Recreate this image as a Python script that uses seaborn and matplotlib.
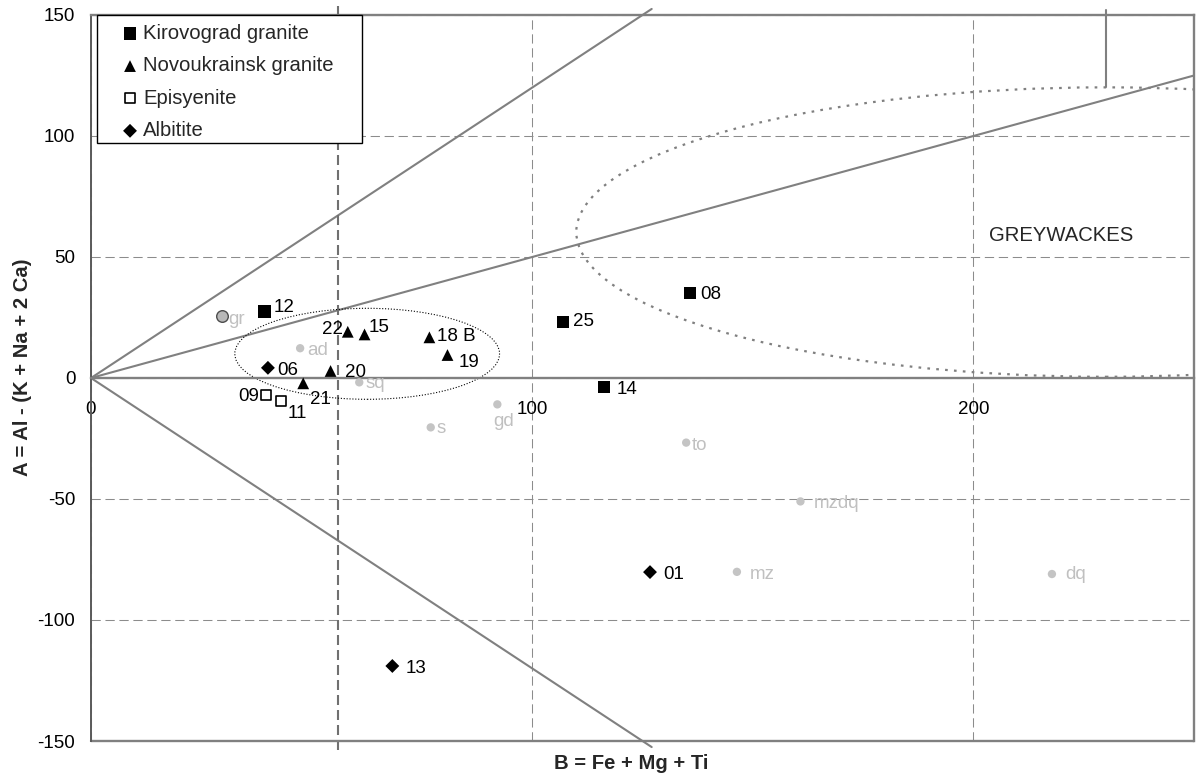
import matplotlib
matplotlib.use("Agg")
import numpy as np
import pandas as pd
import matplotlib.pyplot as plt
import seaborn as sns
from matplotlib.patches import Ellipse, Rectangle

# ---- data ----
kiro_ids = ['12', '25', '08', '14']
kiro_b = [39.3, 107.0, 135.8, 116.3]
kiro_a = [27.4, 23.1, 35.1, -3.8]

novo_ids = ['22', '15', '18 B', '19', '20', '21']
novo_b = [58.2, 62.0, 76.7, 80.8, 54.3, 48.1]
novo_a = [19.1, 18.0, 16.8, 9.5, 2.9, -2.2]

epi_ids = ['09', '11']
epi_b = [39.6, 43.1]
epi_a = [-7.0, -9.5]

albi_ids = ['06', '01', '13']
albi_b = [40.1, 126.7, 68.3]
albi_a = [4.2, -80.2, -119.0]

ref_ids = ['ad', 'sq', 's', 'gd', 'to', 'mzdq', 'mz', 'dq']
ref_b = [47.4, 60.8, 77.0, 92.1, 134.9, 160.8, 146.4, 217.8]
ref_a = [12.3, -1.8, -20.4, -10.9, -26.7, -51.0, -80.1, -81.0]

gr_b, gr_a = [29.8], [25.7]

boundary_slopes = [1.2, 0.5, -1.2]
sector_b = 56.0          # heavy dashed vertical
grey_centre, grey_w, grey_h = (230.0, 60.3), 240.0, 119.6
ellipse_centre, ellipse_w, ellipse_h = (62.6, 10.0), 60.0, 37.6

xticks = [0, 100, 200]
yticks = [-150, -100, -50, 0, 50, 100, 150]

# label offsets in pixels (dx, dy up), horizontal alignment
lab_off = {
    '12': (9, 0, 'left'), '25': (9.5, -4, 'left'), '08': (10, -6, 'left'),
    '14': (13, -6.7, 'left'), '22': (-5, -2.6, 'right'), '15': (4, 2.6, 'left'),
    '18 B': (8, -3.4, 'left'), '19': (11, -11.7, 'left'), '20': (14, -6.3, 'left'),
    '21': (6.7, -20.7, 'left'), '09': (-6.4, -5.7, 'right'), '11': (6.3, -17.3, 'left'),
    '06': (9, -6.7, 'left'), '01': (13.6, -7, 'left'), '13': (13.4, -6.7, 'left'),
    'gr': (6, -8.6, 'left'), 'ad': (6.7, -6.7, 'left'), 'sq': (6, -6, 'left'),
    's': (6, -6, 'left'), 'gd': (6.5, -21.7, 'center'), 'to': (5.7, -7.3, 'left'),
    'mzdq': (13, -7, 'left'), 'mz': (13.3, -7.6, 'left'), 'dq': (13.7, -4.5, 'left'),
}

sns.set_style('white')
plt.rcParams['font.family'] = ['Liberation Sans', 'DejaVu Sans']
plt.rcParams['axes.unicode_minus'] = False
FS = 13.5       # tick and point labels
FS_BIG = 14.6   # legend, axis titles, field name
GRID = '#8c8c8c'
LINE = '#808080'
LABGREY = '#c0c0c0'

fig = plt.figure(figsize=(11.96, 7.80), dpi=100)
ax = fig.add_axes([91 / 1196, 1 - 741 / 780, 1103 / 1196, 726 / 780])

ax.set_xlim(0, 250)
ax.set_ylim(-150, 150)
ax.set_xticks(xticks)
ax.set_yticks(yticks)
ax.grid(True, color=GRID, lw=0.75, ls=(0, (8.9, 4.5)))
ax.set_axisbelow(True)

for side in ['top', 'right']:
    ax.spines[side].set_color(LINE)
    ax.spines[side].set_linewidth(1.7)
ax.spines['left'].set_color('#5a5a5a')
ax.spines['left'].set_linewidth(1.4)
ax.spines['bottom'].set_position(('data', 0))
ax.spines['bottom'].set_color(LINE)
ax.spines['bottom'].set_linewidth(1.7)
ax.axhline(-150, color=LINE, lw=1.7, clip_on=False, zorder=2.5)

ax.tick_params(axis='both', direction='out', length=5.3, width=1, color='#333333',
               labelsize=FS, labelcolor='black')
ax.tick_params(axis='x', pad=11)
ax.tick_params(axis='y', pad=6)

# diagram boundaries
for k in boundary_slopes:
    xe = min(250.0, 152.5 / abs(k))
    ax.plot([0, xe], [0, k * xe], color=LINE, lw=1.5, clip_on=False, zorder=2)
ax.axvline(sector_b, ymin=-0.012, ymax=1.012, color='#707070', lw=1.5,
           ls=(0, (4.8, 2.4)), clip_on=False, zorder=2)

ax.add_patch(Ellipse(grey_centre, grey_w, grey_h, fill=False, ec=LINE, lw=1.6,
                     ls=(0, (1.2, 2.8)), zorder=2))
ax.plot([grey_centre[0], grey_centre[0]], [grey_centre[1] + grey_h / 2, 152],
        color=LINE, lw=1.5, clip_on=False, zorder=2)
ax.add_patch(Ellipse(ellipse_centre, ellipse_w, ellipse_h, fill=False, ec='black',
                     lw=0.8, ls=(0, (1, 1.6)), zorder=2))

ax.text(203.5, 56.7, 'GREYWACKES', fontsize=FS_BIG, va='baseline', ha='left')

# reference compositions
sns.scatterplot(x=ref_b, y=ref_a, ax=ax, s=36, color='#c4c4c4', edgecolor='none',
                legend=False, zorder=3)
sns.scatterplot(x=gr_b, y=gr_a, ax=ax, s=70, color='#b8b8b8', edgecolor='#4d4d4d',
                linewidth=1, legend=False, zorder=3)

# samples
sns.scatterplot(x=kiro_b, y=kiro_a, ax=ax, marker='s', s=80, color='black',
                edgecolor='none', label='Kirovograd granite', zorder=4)
sns.scatterplot(x=novo_b, y=novo_a, ax=ax, marker='^', s=72, color='black',
                edgecolor='none', label='Novoukrainsk granite', zorder=4)
sns.scatterplot(x=epi_b, y=epi_a, ax=ax, marker='s', s=60, color='white',
                edgecolor='black', linewidth=1.2, label='Episyenite', zorder=4)
sns.scatterplot(x=albi_b, y=albi_a, ax=ax, marker='D', s=50, color='black',
                edgecolor='none', label='Albitite', zorder=4)

def put_labels(ids, bs, as_, color):
    for t, b, a in zip(ids, bs, as_):
        dx, dy, ha = lab_off[t]
        ax.annotate(t, (b, a), xytext=(dx, dy), textcoords='offset pixels',
                    ha=ha, va='baseline', fontsize=FS, color=color, zorder=4)

put_labels(kiro_ids, kiro_b, kiro_a, 'black')
put_labels(novo_ids, novo_b, novo_a, 'black')
put_labels(epi_ids, epi_b, epi_a, 'black')
put_labels(albi_ids, albi_b, albi_a, 'black')
put_labels(ref_ids, ref_b, ref_a, LABGREY)
put_labels(['gr'], gr_b, gr_a, LABGREY)

# legend with a hand-drawn box
ax.add_patch(Rectangle((6 / 1103, 1 - 128 / 726), 265 / 1103, 128 / 726,
                       transform=ax.transAxes, fc='white', ec='black', lw=1,
                       zorder=5, clip_on=False))
leg = ax.legend(loc='upper left', bbox_to_anchor=(31.5 / 1103, 1 - 9 / 726),
                frameon=False, fontsize=FS_BIG, borderpad=0, borderaxespad=0,
                handlelength=0.74, handletextpad=0.27, labelspacing=0.66,
                scatterpoints=1)
leg.set_zorder(6)

ax.set_xlabel('B = Fe + Mg + Ti', fontsize=FS_BIG, fontweight='bold')
ax.xaxis.set_label_coords(540 / 1103, -13 / 726)
ax.set_ylabel('A = Al - (K + Na + 2 Ca)', fontsize=FS_BIG, fontweight='bold')
ax.yaxis.set_label_coords(-59 / 1103, 373.5 / 726)

fig.savefig('out.png', dpi=100)
